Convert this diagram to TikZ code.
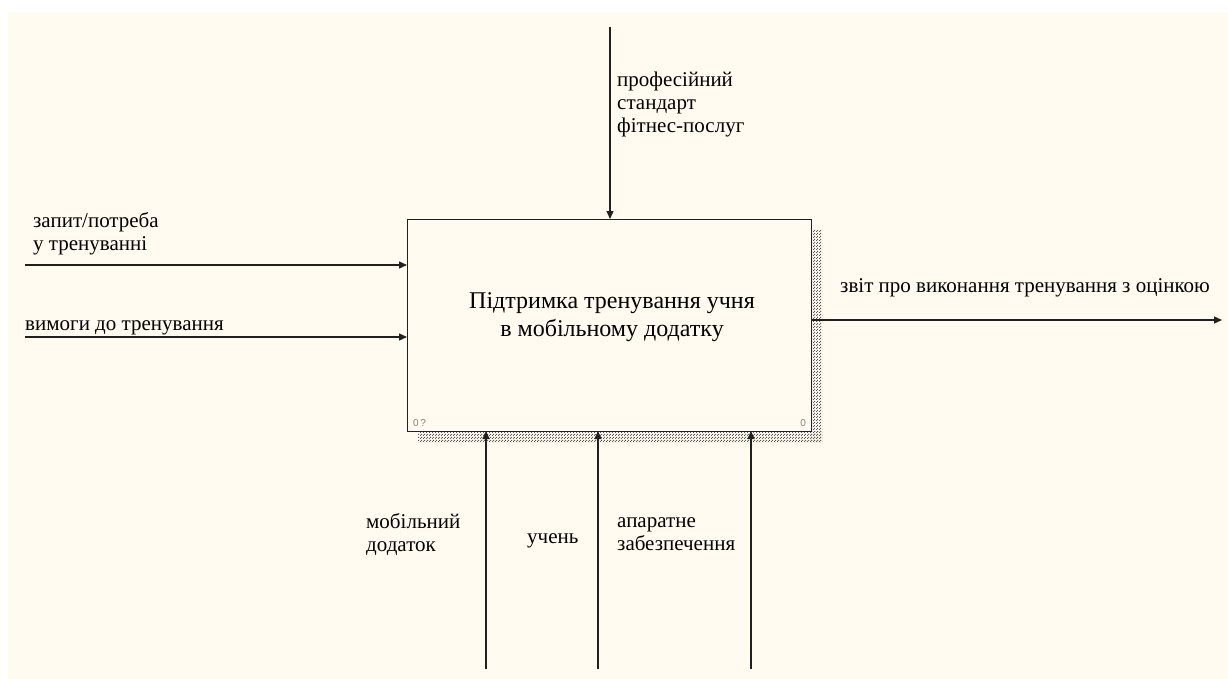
\documentclass[tikz,border=0pt]{standalone}
\usepackage{fontspec}
\setmainfont{Liberation Serif}
\setsansfont{Liberation Sans}
\usetikzlibrary{arrows.meta,patterns}
\definecolor{bgc}{HTML}{FFFBF0}
\definecolor{linec}{HTML}{202020}
\pgfdeclarepatternformonly{idefshadow}{\pgfpointorigin}{\pgfpoint{3pt}{3pt}}{\pgfpoint{3pt}{3pt}}{%
  \pgfpathrectangle{\pgfpoint{0pt}{0pt}}{\pgfpoint{1.3pt}{1.3pt}}%
  \pgfpathrectangle{\pgfpoint{1.5pt}{1.5pt}}{\pgfpoint{1.3pt}{1.3pt}}%
  \pgfusepath{fill}}
\newcommand{\lns}[1]{\begin{tabular}[t]{@{}l@{}}#1\end{tabular}}
\newcommand{\clns}[1]{\begin{tabular}[t]{@{}c@{}}#1\end{tabular}}
\begin{document}
\begin{tikzpicture}[x=1pt,y=-1pt,
  conn/.style={draw=linec,line width=1.3pt,-{Triangle[length=8pt,width=7pt]}},
  lbl/.style={font=\fontsize{21}{23}\selectfont,inner sep=0pt,anchor=base west},
  corner/.style={font=\sffamily\fontsize{10}{10}\selectfont,text=gray,inner sep=0pt},
  shadowfill/.style={pattern=idefshadow,pattern color=black!65}]
\useasboundingbox (0,0) rectangle (1228,679);
\fill[white] (0,0) rectangle (1228,679);
\fill[bgc] (8,13) rectangle (1228,679);
% shadow
\fill[shadowfill] (811,229) rectangle (822,442);
\fill[shadowfill] (418,431) rectangle (822,442);
% box
\node[draw=linec,line width=1.3pt,fill=bgc,minimum width=404pt,minimum height=212pt,anchor=north west,inner sep=0pt] (box) at (407,219) {};
\node[font=\fontsize{24}{28}\selectfont,inner sep=0pt,anchor=base] (title) at (612,308) {\clns{Підтримка тренування учня\\в мобільному додатку}};
\node[corner,anchor=base west] (c1) at (413,426) {0\,?};
\node[corner,anchor=base east] (c2) at (806,426) {0};
% coordinates
\coordinate (ctrlS) at (610,27);
\coordinate (ctrlE) at (610,219);
\coordinate (in1S) at (25,265);
\coordinate (in1E) at (407,265);
\coordinate (in2S) at (25,337);
\coordinate (in2E) at (407,337);
\coordinate (outS) at (811,320);
\coordinate (outE) at (1222,320);
\coordinate (m1S) at (486,669);
\coordinate (m1E) at (486,431);
\coordinate (m2S) at (598,669);
\coordinate (m2E) at (598,431);
\coordinate (m3S) at (751,669);
\coordinate (m3E) at (751,431);
\draw[conn] (ctrlS) -- (ctrlE);
\draw[conn] (in1S) -- (in1E);
\draw[conn] (in2S) -- (in2E);
\draw[conn] (outS) -- (outE);
\draw[conn] (m1S) -- (m1E);
\draw[conn] (m2S) -- (m2E);
\draw[conn] (m3S) -- (m3E);
% labels
\node[lbl] (lc) at (617,87) {\lns{професійний\\стандарт\\фітнес-послуг}};
\node[lbl] (li1) at (33,227) {\lns{запит/потреба\\у тренуванні}};
\node[lbl] (li2) at (25,330) {вимоги до тренування};
\node[lbl] (lo) at (840,292) {звіт про виконання тренування з оцінкою};
\node[lbl] (lm1) at (366,528) {\lns{мобільний\\додаток}};
\node[lbl] (lm2) at (527,543) {учень};
\node[lbl] (lm3) at (617,527) {\lns{апаратне\\забезпечення}};
\end{tikzpicture}
\end{document}
